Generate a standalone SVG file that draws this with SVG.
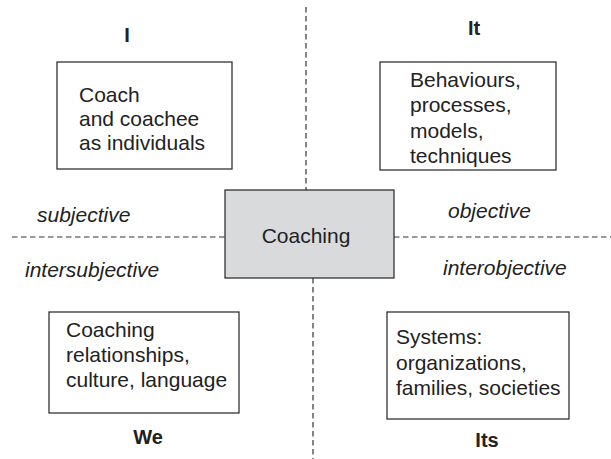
<svg xmlns="http://www.w3.org/2000/svg" width="611" height="459" viewBox="0 0 611 459">
<style>
.box{fill:#fff;stroke:#333;stroke-width:1.3}
.center{fill:#d9dadc;stroke:#333;stroke-width:1.3}
.t{font-family:"Liberation Sans",Arial,sans-serif;font-size:21px;fill:#222}
.i{font-family:"Liberation Sans",Arial,sans-serif;font-size:21px;font-style:italic;fill:#222}
.b{font-family:"Liberation Sans",Arial,sans-serif;font-size:20px;font-weight:bold;fill:#222;text-anchor:middle}
.dash{stroke:#333;stroke-width:1.2;stroke-dasharray:5.5 3.5;fill:none}
</style>
<rect width="611" height="459" fill="#fff"/>
<g id="connectors">
<line class="dash" x1="306" y1="7" x2="306" y2="190"/>
<line class="dash" x1="313" y1="278" x2="313" y2="459"/>
<line class="dash" x1="12" y1="237" x2="225" y2="237"/>
<line class="dash" x1="394" y1="237" x2="611" y2="237"/>
</g>
<g id="labels">
<text class="b" x="127" y="42">I</text>
<text class="b" x="474" y="35">It</text>
<text class="b" x="148" y="444">We</text>
<text class="b" x="487" y="447">Its</text>
<text class="i" x="37" y="222">subjective</text>
<text class="i" x="448" y="218">objective</text>
<text class="i" x="25" y="277">intersubjective</text>
<text class="i" x="443" y="275">interobjective</text>
</g>
<g id="node-I">
<rect class="box" x="57" y="62" width="175" height="107"/>
<text class="t" x="79" y="102">Coach</text>
<text class="t" x="79" y="126">and coachee</text>
<text class="t" x="79" y="150">as individuals</text>
</g>
<g id="node-It">
<rect class="box" x="380" y="62" width="176" height="108"/>
<text class="t" x="410" y="87">Behaviours,</text>
<text class="t" x="410" y="112">processes,</text>
<text class="t" x="410" y="138">models,</text>
<text class="t" x="410" y="163">techniques</text>
</g>
<g id="node-center">
<rect class="center" x="225" y="190" width="169" height="88"/>
<text class="t" x="306" y="243" text-anchor="middle">Coaching</text>
</g>
<g id="node-We">
<rect class="box" x="49" y="312" width="190" height="101"/>
<text class="t" x="66" y="337">Coaching</text>
<text class="t" x="66" y="362">relationships,</text>
<text class="t" x="66" y="387">culture, language</text>
</g>
<g id="node-Its">
<rect class="box" x="387" y="312" width="182" height="107"/>
<text class="t" x="396" y="344">Systems:</text>
<text class="t" x="396" y="370">organizations,</text>
<text class="t" x="396" y="395">families, societies</text>
</g>
</svg>
